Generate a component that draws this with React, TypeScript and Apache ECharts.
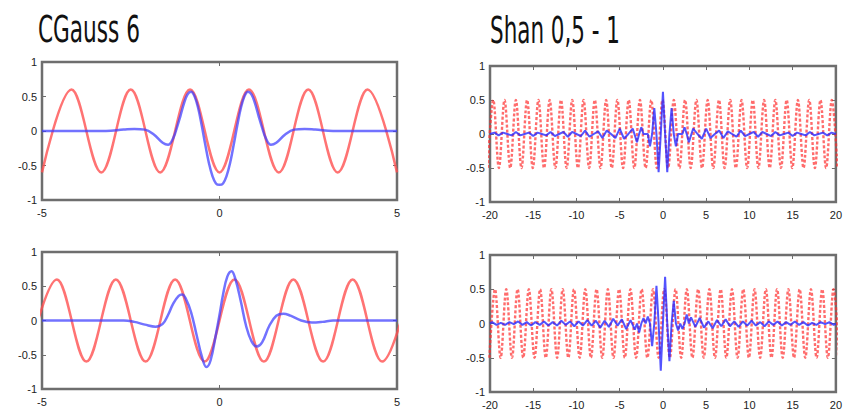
import React, { useEffect, useRef } from "react";
import * as echarts from "echarts";

// ---------- titles ----------
const titleLeft = "CGauss 6";
const titleRight = "Shan 0,5 - 1";

// ---------- axis ranges / ticks ----------
const yTicks = { min: -1, max: 1, interval: 0.5 };
const cgXTicks = { min: -5, max: 5, interval: 5 };
const shXTicks = { min: -20, max: 20, interval: 5 };

// ---------- CGauss 6, top (real part) ----------
const cgTopRedAmp = 0.6;
const cgTopRedPeaks = [-4.17, -2.5, -0.83, 0.83, 2.5, 4.17];
const cgTopRedTroughs = [-5, -3.33, -1.67, 0, 1.67, 3.33, 5];
const cgTopBlueX = [-5, -3.2, -2.7, -2.4, -2.1, -1.85, -1.6, -1.45, -1.3, -1.2, -1.1, -1.0, -0.9, -0.8, -0.7, -0.6, -0.5, -0.4, -0.3, -0.2, -0.1, 0, 0.1, 0.2, 0.3, 0.4, 0.5, 0.6, 0.7, 0.8, 0.9, 1.0, 1.1, 1.2, 1.3, 1.45, 1.6, 1.85, 2.1, 2.4, 2.7, 3.2, 5];
const cgTopBlueY = [0, 0, 0.02, 0.03, 0.02, -0.05, -0.17, -0.2, -0.1, 0.05, 0.22, 0.4, 0.53, 0.57, 0.5, 0.33, 0.08, -0.2, -0.46, -0.65, -0.76, -0.78, -0.76, -0.65, -0.46, -0.2, 0.08, 0.33, 0.5, 0.57, 0.53, 0.4, 0.22, 0.05, -0.1, -0.2, -0.17, -0.05, 0.02, 0.03, 0.02, 0, 0];

// ---------- CGauss 6, bottom (imaginary part) ----------
const cgBotRedAmp = 0.6;
const cgBotRedPeaks = [-4.58, -2.92, -1.25, 0.42, 2.08, 3.75, 5.42];
const cgBotRedTroughs = [-5.42, -3.75, -2.08, -0.42, 1.25, 2.92, 4.58];
const cgBotBlueX = [-5, -2.7, -2.4, -2.1, -1.8, -1.6, -1.45, -1.3, -1.15, -1.05, -0.95, -0.8, -0.65, -0.5, -0.37, -0.25, -0.1, 0, 0.1, 0.22, 0.34, 0.45, 0.6, 0.75, 0.9, 1.05, 1.2, 1.4, 1.6, 1.8, 2.0, 2.3, 2.6, 2.9, 3.2, 5];
const cgBotBlueY = [0, 0, -0.02, -0.06, -0.09, -0.05, 0.08, 0.25, 0.36, 0.38, 0.32, 0.12, -0.2, -0.52, -0.68, -0.58, -0.2, 0.08, 0.38, 0.64, 0.72, 0.6, 0.28, -0.08, -0.3, -0.38, -0.32, -0.08, 0.07, 0.1, 0.07, 0, -0.03, -0.02, 0, 0];

// ---------- Shan 0.5-1, top (real part) ----------
const shTopRedAmp = 0.5;
const shTopRedPeaks = [-19.62, -18.32, -17.01, -15.71, -14.4, -13.1, -11.79, -10.49, -9.18, -7.88, -6.57, -5.27, -3.96, -2.66, -1.35, -0.05, 1.26, 2.56, 3.87, 5.17, 6.48, 7.78, 9.09, 10.39, 11.7, 13.0, 14.31, 15.61, 16.92, 18.22, 19.53];
const shTopRedTroughs = [-20.27, -18.97, -17.66, -16.36, -15.05, -13.75, -12.44, -11.14, -9.83, -8.53, -7.22, -5.92, -4.61, -3.31, -2.0, -0.7, 0.6, 1.91, 3.21, 4.52, 5.82, 7.13, 8.43, 9.74, 11.04, 12.35, 13.65, 14.96, 16.26, 17.57, 18.87, 20.18];
const shTopBlueX = [-20, -19.5, -19, -18.5, -18, -17.5, -17, -16.5, -16, -15.5, -15, -14.5, -14, -13.5, -13, -12.5, -12, -11.5, -11, -10.5, -10, -9.5, -9, -8.5, -8, -7.5, -7, -6.5, -6, -5.5, -5, -4.5, -4, -3.5,
  -3, -2.75, -2.5, -2.25, -2, -1.75, -1.5, -1.25, -1, -0.75, -0.5, -0.25, 0, 0.25, 0.5, 0.75, 1, 1.25, 1.5, 1.75, 2, 2.25, 2.5, 2.75, 3,
  3.5, 4, 4.5, 5, 5.5, 6, 6.5, 7, 7.5, 8, 8.5, 9, 9.5, 10, 10.5, 11, 11.5, 12, 12.5, 13, 13.5, 14, 14.5, 15, 15.5, 16, 16.5, 17, 17.5, 18, 18.5, 19, 19.5, 20];
const shTopBlueY = [0, 0.02, -0.02, 0.02, 0, -0.02, 0.03, -0.02, 0, 0.02, -0.03, 0.02, 0, -0.02, 0.03, -0.03, 0, 0.03, -0.04, 0.03, 0, -0.03, 0.05, -0.04, 0, 0.04, -0.06, 0.05, 0, -0.06, 0.08, -0.07, 0, 0.08,
  -0.12, 0, 0.1, 0, 0, 0, -0.18, 0, 0.38, 0, -0.56, 0, 0.62, 0, -0.56, 0, 0.38, 0, -0.18, 0, 0, 0, 0.1, 0, -0.12,
  0.08, 0, -0.07, 0.08, -0.06, 0, 0.05, -0.06, 0.04, 0, -0.04, 0.05, -0.03, 0, 0.03, -0.04, 0.03, 0, -0.03, 0.03, -0.02, 0, 0.02, -0.03, 0.02, 0, -0.02, 0.03, -0.02, 0, 0.02, -0.02, 0.02, 0];

// ---------- Shan 0.5-1, bottom (imaginary part) ----------
const shBotRedAmp = 0.5;
const shBotRedPeaks = [-19.42, -18.12, -16.81, -15.51, -14.2, -12.9, -11.59, -10.29, -8.98, -7.68, -6.37, -5.07, -3.76, -2.46, -1.15, 0.15, 1.46, 2.76, 4.07, 5.37, 6.68, 7.98, 9.29, 10.59, 11.9, 13.2, 14.51, 15.81, 17.12, 18.42, 19.73];
const shBotRedTroughs = [-20.07, -18.77, -17.46, -16.16, -14.85, -13.55, -12.24, -10.94, -9.63, -8.33, -7.02, -5.72, -4.41, -3.11, -1.8, -0.5, 0.8, 2.11, 3.41, 4.72, 6.02, 7.33, 8.63, 9.94, 11.24, 12.55, 13.85, 15.16, 16.46, 17.77, 19.07, 20.38];
const shBotBlueX = [-20, -19.75, -19.25, -18.75, -18.25, -17.75, -17.25, -16.75, -16.25, -15.75, -15.25, -14.75, -14.25, -13.75, -13.25, -12.75, -12.25, -11.75, -11.25, -10.75, -10.25, -9.75, -9.25, -8.75, -8.25, -7.75, -7.25, -6.75, -6.25, -5.75, -5.25, -4.75, -4.25, -3.75, -3.25,
  -3, -2.75, -2.5, -2.25, -2, -1.75, -1.5, -1.25, -1, -0.75, -0.5, -0.25, 0, 0.25, 0.5, 0.75, 1, 1.25, 1.5, 1.75, 2, 2.25, 2.5, 2.75, 3,
  3.25, 3.75, 4.25, 4.75, 5.25, 5.75, 6.25, 6.75, 7.25, 7.75, 8.25, 8.75, 9.25, 9.75, 10.25, 10.75, 11.25, 11.75, 12.25, 12.75, 13.25, 13.75, 14.25, 14.75, 15.25, 15.75, 16.25, 16.75, 17.25, 17.75, 18.25, 18.75, 19.25, 19.75, 20];
const shBotBlueY = [0, 0.02, -0.02, 0.01, -0.02, 0.02, -0.01, 0.03, -0.02, 0.02, -0.03, 0.02, -0.02, 0.03, -0.03, 0.02, -0.03, 0.04, -0.02, 0.03, -0.04, 0.03, -0.03, 0.05, -0.03, 0.04, -0.06, 0.04, -0.05, 0.07, -0.03, 0.06, -0.08, 0.05, -0.09,
  0, -0.13, 0, 0.08, 0, 0.1, 0, -0.33, 0, 0.55, 0, -0.69, 0, 0.68, 0, -0.55, 0, 0.33, 0, -0.1, 0, -0.08, 0, 0.13, 0,
  0.09, -0.05, 0.08, -0.06, 0.03, -0.07, 0.05, -0.04, 0.06, -0.04, 0.03, -0.05, 0.03, -0.03, 0.04, -0.03, 0.02, -0.04, 0.03, -0.02, 0.03, -0.03, 0.02, -0.02, 0.03, -0.02, 0.02, -0.03, 0.01, -0.02, 0.02, -0.01, 0.02, -0.02, 0];

// ---------- helpers ----------
const extremes = (peaks: number[], troughs: number[], amp: number) =>
  [...peaks.map((x) => [x, amp]), ...troughs.map((x) => [x, -amp])].sort((a, b) => a[0] - b[0]);
const pairs = (xs: number[], ys: number[]) => xs.map((x, i) => [x, ys[i]]);

const FRAME = "#6e6e6e";
const LABEL_FONT = "'Liberation Sans', Arial, sans-serif";
const TITLE_FONT = "'Liberation Sans Narrow', 'DejaVu Sans Condensed', sans-serif";

export default function App() {
  const ref = useRef<HTMLDivElement>(null);

  useEffect(() => {
    if (!ref.current) return;
    const chart = echarts.init(ref.current, undefined, { renderer: "svg" });

    const grids = [
      { left: 42, top: 62, width: 355, height: 138 },
      { left: 42, top: 252, width: 355, height: 137 },
      { left: 490, top: 66, width: 350, height: 136 },
      { left: 490, top: 255, width: 350, height: 137 },
    ];
    const xRanges = [cgXTicks, cgXTicks, shXTicks, shXTicks];

    const tick = { show: true, inside: true, length: 4, lineStyle: { color: FRAME, width: 1 } };
    const label = { show: true, fontSize: 11, color: "#222", fontFamily: LABEL_FONT, showMinLabel: true, showMaxLabel: true };

    const xAxes: any[] = [];
    const yAxes: any[] = [];
    grids.forEach((_, g) => {
      const xr = xRanges[g];
      xAxes.push({
        type: "value", gridIndex: g, position: "bottom", ...xr,
        axisLine: { show: false, onZero: false },
        axisTick: tick,
        splitLine: { show: false },
        axisLabel: { ...label, margin: 7 },
      });
      xAxes.push({
        type: "value", gridIndex: g, position: "top", ...xr,
        axisLine: { show: false, onZero: false },
        axisTick: tick,
        splitLine: { show: false },
        axisLabel: { show: false },
      });
      yAxes.push({
        type: "value", gridIndex: g, position: "left", ...yTicks,
        axisLine: { show: false, onZero: false },
        axisTick: tick,
        splitLine: { show: false },
        axisLabel: { ...label, margin: 5 },
      });
      yAxes.push({
        type: "value", gridIndex: g, position: "right", ...yTicks,
        axisLine: { show: false, onZero: false },
        axisTick: tick,
        splitLine: { show: false },
        axisLabel: { show: false },
      });
    });

    const redLeft = { color: "rgba(255,80,80,0.8)", width: 2.5 };
    const blueLeft = { color: "rgba(60,60,255,0.72)", width: 2.5 };
    const redRight = { color: "rgba(255,45,45,0.7)", width: 2.4, type: [3, 2] as any };
    const blueRight = { color: "rgba(40,40,255,0.8)", width: 2 };

    const mk = (g: number, data: number[][], lineStyle: any, smooth: any, z: number) => ({
      type: "line", xAxisIndex: 2 * g, yAxisIndex: 2 * g, data, showSymbol: false, symbol: "none",
      smooth, lineStyle, clip: true, z, silent: true,
    });

    chart.setOption({
      animation: false,
      backgroundColor: "#ffffff",
      grid: grids.map((gr) => ({ ...gr, show: true, borderColor: FRAME, borderWidth: 2.5, backgroundColor: "transparent" })),
      xAxis: xAxes,
      yAxis: yAxes,
      series: [
        mk(0, extremes(cgTopRedPeaks, cgTopRedTroughs, cgTopRedAmp), redLeft, 0.36, 2),
        mk(0, pairs(cgTopBlueX, cgTopBlueY), blueLeft, 0.4, 3),
        mk(1, extremes(cgBotRedPeaks, cgBotRedTroughs, cgBotRedAmp), redLeft, 0.36, 2),
        mk(1, pairs(cgBotBlueX, cgBotBlueY), blueLeft, 0.4, 3),
        mk(2, extremes(shTopRedPeaks, shTopRedTroughs, shTopRedAmp), redRight, 0.36, 2),
        mk(2, pairs(shTopBlueX, shTopBlueY), blueRight, false, 3),
        mk(3, extremes(shBotRedPeaks, shBotRedTroughs, shBotRedAmp), redRight, 0.36, 2),
        mk(3, pairs(shBotBlueX, shBotBlueY), blueRight, false, 3),
      ],
      graphic: [
        {
          type: "text", x: 38, y: 29, scaleX: 0.65,
          style: { text: titleLeft, fontSize: 37, fontFamily: TITLE_FONT, fill: "#111", align: "left", verticalAlign: "middle" },
        },
        {
          type: "text", x: 490, y: 30, scaleX: 0.645,
          style: { text: titleRight, fontSize: 37, fontFamily: TITLE_FONT, fill: "#111", align: "left", verticalAlign: "middle" },
        },
      ],
    });

    return () => chart.dispose();
  }, []);

  return (
    <div
      ref={ref}
      style={{ position: "absolute", left: 0, top: 0, width: 845, height: 412, background: "#fff" }}
    />
  );
}
